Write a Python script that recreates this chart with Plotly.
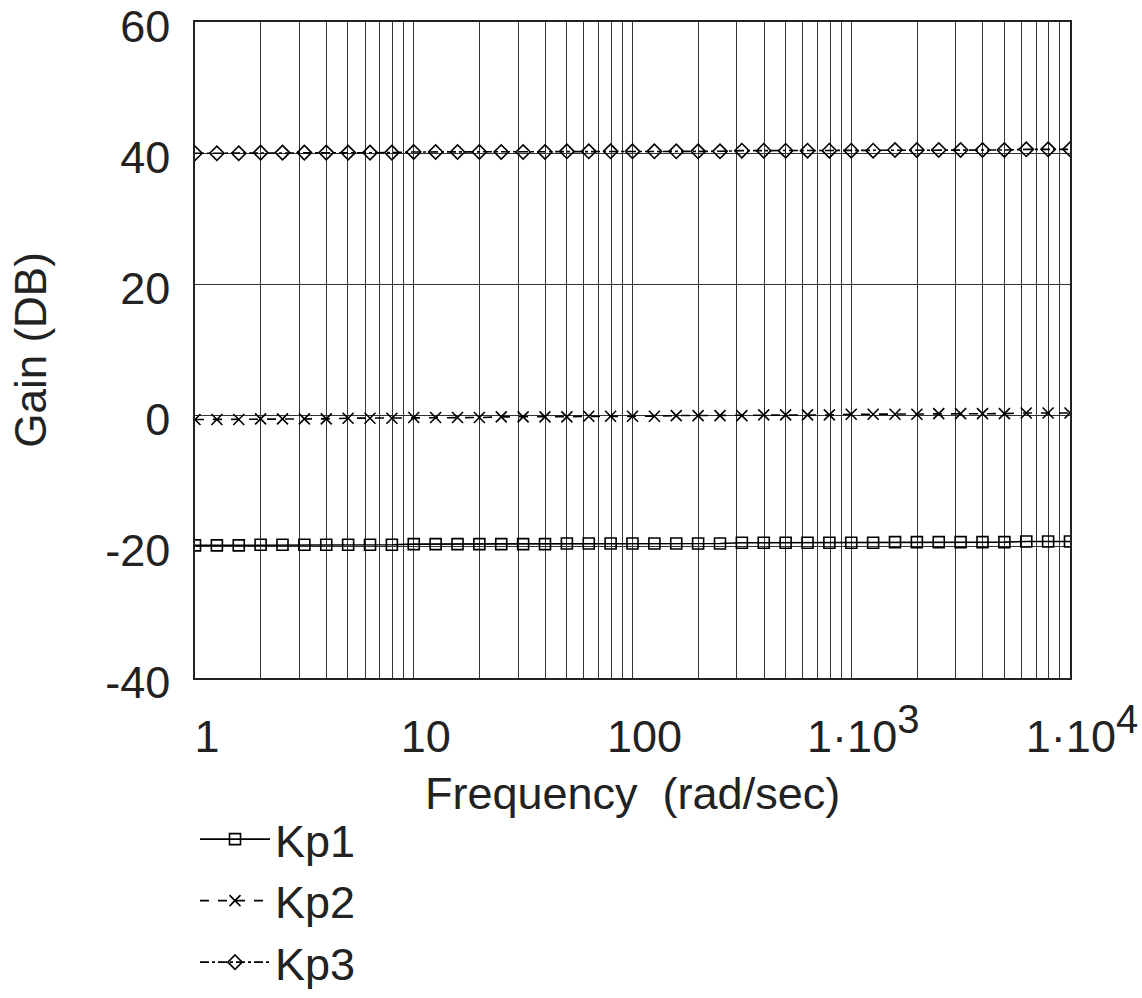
import plotly.graph_objects as go

# Frequency points (rad/sec), 10 per decade from 1 to 1e4
freq = [1.0, 1.259, 1.585, 1.995, 2.512, 3.162, 3.981, 5.012, 6.310, 7.943,
        10.0, 12.59, 15.85, 19.95, 25.12, 31.62, 39.81, 50.12, 63.10, 79.43,
        100.0, 125.9, 158.5, 199.5, 251.2, 316.2, 398.1, 501.2, 631.0, 794.3,
        1000.0, 1259.0, 1585.0, 1995.0, 2512.0, 3162.0, 3981.0, 5012.0, 6310.0, 7943.0,
        10000.0]

kp1 = [-19.8, -19.8, -19.8, -19.7, -19.7, -19.7, -19.7, -19.7, -19.7, -19.7,
       -19.6, -19.6, -19.6, -19.6, -19.6, -19.6, -19.6, -19.5, -19.5, -19.5,
       -19.5, -19.5, -19.5, -19.5, -19.5, -19.4, -19.4, -19.4, -19.4, -19.4,
       -19.4, -19.4, -19.3, -19.3, -19.3, -19.3, -19.3, -19.3, -19.2, -19.2,
       -19.2]
kp2 = [-0.6, -0.6, -0.6, -0.5, -0.5, -0.5, -0.5, -0.4, -0.4, -0.4,
       -0.3, -0.3, -0.3, -0.3, -0.2, -0.2, -0.2, -0.2, -0.1, -0.1,
       -0.1, -0.1, 0.0, 0.0, 0.0, 0.0, 0.1, 0.1, 0.1, 0.1,
       0.2, 0.2, 0.2, 0.2, 0.3, 0.3, 0.3, 0.3, 0.4, 0.4,
       0.4]
kp3 = [40.0, 40.0, 40.0, 40.1, 40.1, 40.1, 40.1, 40.1, 40.1, 40.1,
       40.2, 40.2, 40.2, 40.2, 40.2, 40.2, 40.2, 40.3, 40.3, 40.3,
       40.3, 40.3, 40.3, 40.3, 40.3, 40.4, 40.4, 40.4, 40.4, 40.4,
       40.4, 40.4, 40.5, 40.5, 40.5, 40.5, 40.5, 40.5, 40.6, 40.6,
       40.6]

series_names = ["Kp1", "Kp2", "Kp3"]
series_values = [kp1, kp2, kp3]
series_symbols = ["square-open", "x-thin-open", "diamond-open"]
series_dash = ["solid", "dash", "dashdot"]

# grid / tick positions
decades = [1, 10, 100, 1000, 10000]
decade_labels = ["1", "10", "100",
                 "1·10<sup><span style='font-size:40px'>3</span></sup>",
                 "1·10<sup><span style='font-size:40px'>4</span></sup>"]
grid_x = []
grid_text = []
for i, d in enumerate(decades[:-1]):
    for m in range(1, 10):
        grid_x.append(d * m)
        grid_text.append(decade_labels[i] if m == 1 else "")
grid_x.append(10000)
grid_text.append(decade_labels[-1])

y_ticks = [-40, -20, 0, 20, 40, 60]
y_labels = ["-40", "-20", "0", "20", "40", "60"]

fig = go.Figure()
for name, vals, sym, dash in zip(series_names, series_values, series_symbols, series_dash):
    fig.add_trace(go.Scatter(
        x=freq, y=vals, name=name, mode="lines+markers",
        line=dict(color="black", width=1.6, dash=dash),
        marker=dict(symbol=sym, size=11, color="black",
                    line=dict(color="black", width=1.6)),
    ))

font = "Liberation Sans, Arial, sans-serif"
fs = 45
fig.update_layout(
    width=1142, height=998,
    paper_bgcolor="white", plot_bgcolor="white",
    margin=dict(l=195, r=72, t=22, b=320, autoexpand=False),
    font=dict(family=font, color="#222", size=fs),
    showlegend=True,
    legend=dict(x=0.0, y=0.195, yref="container",
                xanchor="left", yanchor="top",
                font=dict(size=fs, family=font, color="#222"),
                bgcolor="rgba(0,0,0,0)", tracegroupgap=0, itemwidth=70),
    xaxis=dict(
        type="log", range=[0, 4], automargin=False,
        tickmode="array", tickvals=grid_x, ticktext=grid_text,
        showgrid=True, gridcolor="#333", gridwidth=1,
        showline=True, linecolor="#222", linewidth=1.5, mirror=True,
        ticks="", ticklabelshift=12, ticklabelstandoff=18,
        ticklabeloverflow="allow",
        tickfont=dict(size=fs, family=font, color="#222"),
        zeroline=False,
    ),
    yaxis=dict(
        range=[-40.02, 60.02], automargin=False,
        tickmode="array", tickvals=y_ticks, ticktext=y_labels,
        showgrid=True, gridcolor="#333", gridwidth=1,
        showline=True, linecolor="#222", linewidth=1.5, mirror=True,
        ticks="", ticklabelstandoff=14, ticklabelshift=4,
        ticklabeloverflow="allow",
        tickfont=dict(size=fs, family=font, color="#222"),
        title=dict(text="Gain (DB)", font=dict(size=44, family=font, color="#222"),
                   standoff=45),
        zeroline=False,
    ),
    annotations=[dict(
        text="Frequency  (rad/sec)", xref="paper", yref="paper",
        x=0.5, y=-0.176, xanchor="center", yanchor="middle", showarrow=False,
        font=dict(size=fs, family=font, color="#222"),
    )],
)

fig.write_html("out.html", config={"displayModeBar": False},
               post_script="document.body.style.margin='0';")
